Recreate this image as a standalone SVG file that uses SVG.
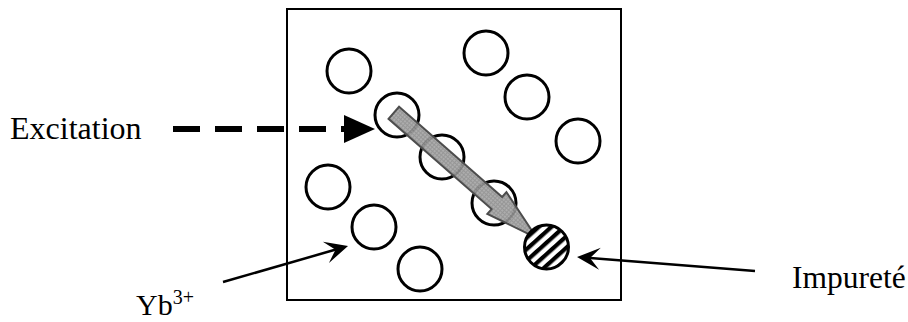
<svg xmlns="http://www.w3.org/2000/svg" width="908" height="322" viewBox="0 0 908 322">
<style>
.lbl{font-family:"Liberation Serif","Times New Roman",serif;fill:#000}
.ion{fill:#fff;stroke:#000;stroke-width:3}
.thin{stroke:#000;stroke-width:2.5;fill:none}
</style>
<defs>
<marker id="stealth" markerUnits="userSpaceOnUse" viewBox="-15 -12 27 24" markerWidth="27" markerHeight="24" refX="0" refY="0" orient="auto">
<path d="M10,0 L-13,-11 L-3,0 L-13,11 Z" fill="#000"/>
</marker>
<pattern id="hatch" patternUnits="userSpaceOnUse" width="8.5" height="8.5" patternTransform="rotate(-42)">
<rect width="8.5" height="8.5" fill="#fff"/>
<rect width="8.5" height="4.2" fill="#000"/>
</pattern>
<pattern id="grain" patternUnits="userSpaceOnUse" width="3" height="3">
<rect width="3" height="3" fill="#a4a4a4"/>
<rect width="1" height="3" fill="#8c8c8c"/>
<rect width="3" height="1" fill="#8c8c8c"/>
</pattern>
</defs>

<g id="box">
<rect x="287" y="9" width="334" height="291" fill="#fff" stroke="#000" stroke-width="2"/>
</g>

<g id="ions">
<circle class="ion" cx="349" cy="71" r="22"/>
<circle class="ion" cx="486" cy="53" r="22"/>
<circle class="ion" cx="527" cy="97" r="22"/>
<circle class="ion" cx="578" cy="141" r="22"/>
<circle class="ion" cx="397" cy="115" r="22"/>
<circle class="ion" cx="442" cy="157" r="22"/>
<circle class="ion" cx="328" cy="187" r="22"/>
<circle class="ion" cx="374" cy="227" r="22"/>
<circle class="ion" cx="494" cy="203" r="22"/>
<circle class="ion" cx="420" cy="269" r="22"/>
</g>

<g id="transfer-arrow">
<path transform="translate(393.8,112.8) rotate(41.2)" d="M0,-8 H137 V-14.5 L190,0 L137,14.5 V8 H0 Z" fill="url(#grain)" fill-opacity="0.9" stroke="#4d4d4d" stroke-width="2" stroke-linejoin="miter"/>
</g>

<g id="impurity">
<circle cx="546.5" cy="247" r="22" fill="url(#hatch)" stroke="#000" stroke-width="3"/>
</g>

<g id="connectors">
<line x1="173" y1="129" x2="346" y2="129" stroke="#000" stroke-width="6" stroke-dasharray="27 15"/>
<polygon points="344,115 375,129 344,143" fill="#000"/>
<line class="thin" x1="223" y1="282" x2="338.4" y2="248.8" marker-end="url(#stealth)"/>
<line class="thin" x1="755" y1="271" x2="587" y2="257.8" marker-end="url(#stealth)"/>
</g>

<g id="label-excitation">
<text class="lbl" x="10" y="139" font-size="32">Excitation</text>
</g>
<g id="label-impurete">
<text class="lbl" x="792" y="288" font-size="31.5">Impureté</text>
</g>
<g id="label-yb">
<text class="lbl" x="136" y="315" font-size="30">Yb<tspan font-size="20" dy="-11">3+</tspan></text>
</g>
</svg>
